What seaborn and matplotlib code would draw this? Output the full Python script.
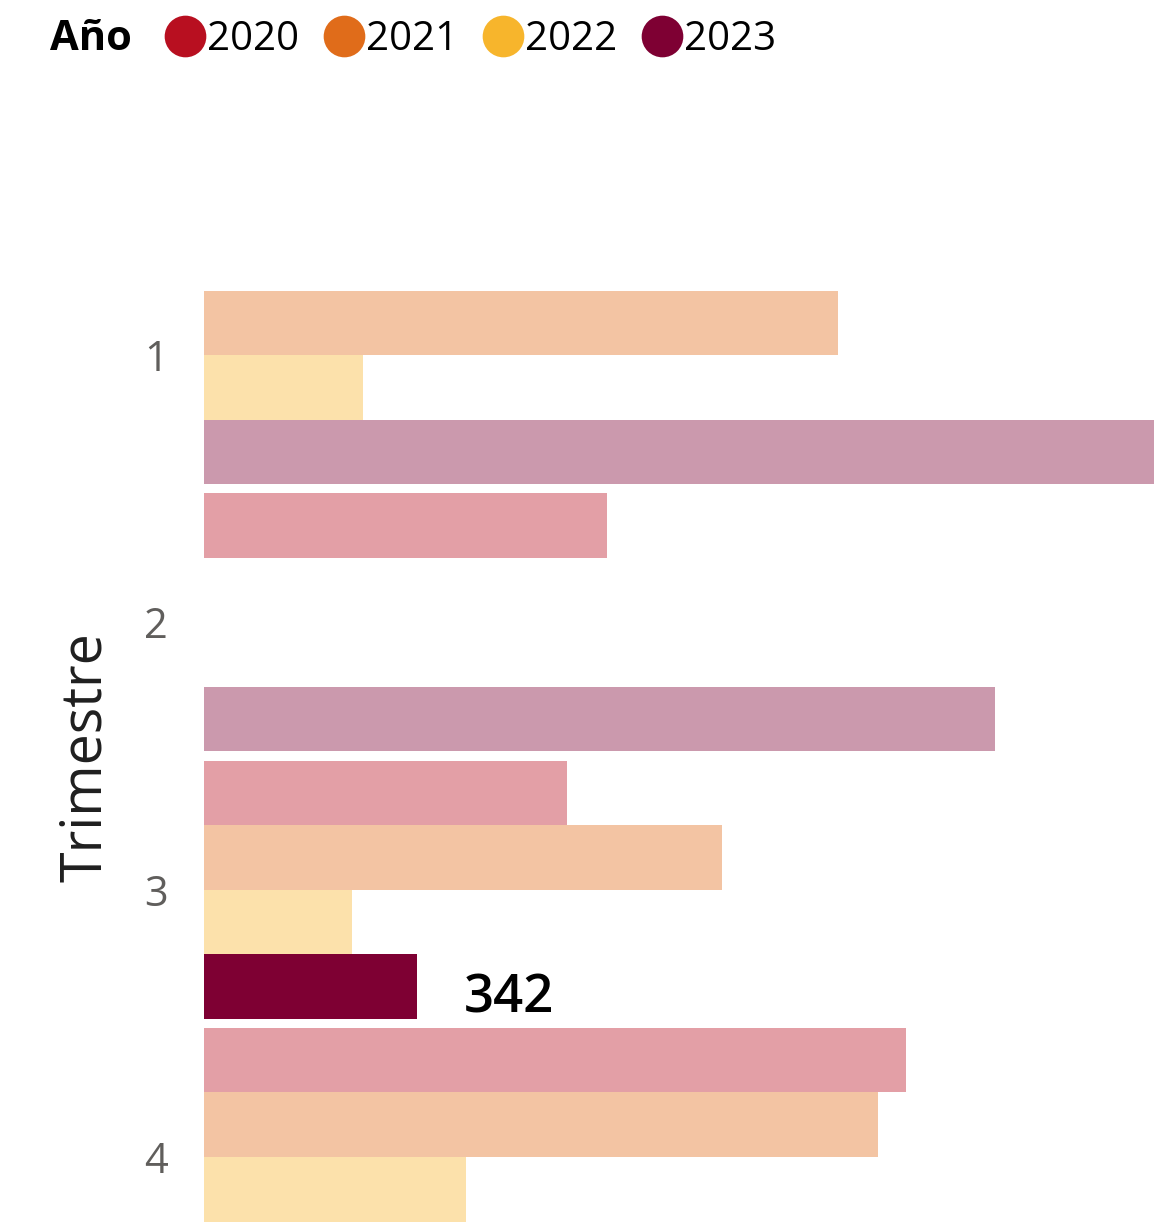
"""
Trimestre bars by year, one bar highlighted
"""

import numpy as np
import pandas as pd
import matplotlib
matplotlib.use("Agg")
import matplotlib.pyplot as plt
from matplotlib.lines import Line2D
from matplotlib.colors import to_rgb
import seaborn as sns

# data
trimestres = ["1", "2", "3", "4"]
years = ["2020", "2021", "2022", "2023"]
v2020 = [np.nan, 647, 583, 1126]
v2021 = [1018, np.nan, 832, 1081]
v2022 = [255, np.nan, 238, 421]
v2023 = [1525, 1270, 342, np.nan]
highlight = ("3", "2023")

colors = ["#B80F20", "#E06C1A", "#F7B52C", "#7E0033"]

rows = []
for year, vals in zip(years, [v2020, v2021, v2022, v2023]):
    for t, v in zip(trimestres, vals):
        if not np.isnan(v):
            rows.append({"Trimestre": t, "Año": year, "Valor": v})
df = pd.DataFrame(rows)

sns.set_style("white")
plt.rcParams["font.family"] = ["Open Sans", "DejaVu Sans"]

fig = plt.figure(figsize=(11.72, 12.25), dpi=100)
ax = fig.add_axes([0.174, 0.0, 0.811, 1 - 221.4 / 1225])

sns.barplot(data=df, y="Trimestre", x="Valor", hue="Año", order=trimestres,
            hue_order=years, palette=colors, orient="h", width=0.966,
            dodge=True, errorbar=None, legend=False, saturation=1, ax=ax)


def fade(c, a=0.4):
    r, g, b = to_rgb(c)
    return (a * r + 1 - a, a * g + 1 - a, a * b + 1 - a)


# fade everything except the selected bar
for year, color, cont in zip(years, colors, ax.containers):
    sub = df[df["Año"] == year].set_index("Trimestre")
    present = [t for t in trimestres if t in sub.index]
    for bar, t in zip(cont.patches, present):
        bar.set_edgecolor("none")
        if (t, year) == highlight:
            bar.set_facecolor(color)
            ax.annotate(f"{int(sub.loc[t, 'Valor'])}", (bar.get_width(), bar.get_y() + bar.get_height() / 2),
                        xytext=(34, -9), textcoords="offset points", va="center",
                        ha="left", fontsize=38, fontweight="semibold", color="black")
        else:
            bar.set_facecolor(fade(color))

ax.set_xlim(0, df["Valor"].max())
ax.set_ylim(3 + (1225 - 1157) / 267.3, -0.5)
sns.despine(ax=ax, left=True, bottom=True)
ax.set_xticks([])
ax.set_xlabel("")
ax.tick_params(axis="y", length=0, labelsize=30, labelcolor="#605E5C", pad=26)
ax.set_ylabel("Trimestre", fontsize=40, color="#1f1f1f")
ax.yaxis.set_label_coords(-0.094, 0.466)

# legend strip at top
fig.text(50 / 1172, 1 - 39 / 1225, "Año", fontsize=30, fontweight="bold",
         color="black", va="center", ha="left")
handles = [Line2D([], [], marker="o", linestyle="none", markersize=30,
                  markerfacecolor=c, markeredgecolor="none") for c in colors]
fig.legend(handles, years, loc="center left", bbox_to_anchor=(141 / 1172, 1 - 40 / 1225),
           ncol=4, frameon=False, fontsize=29, handletextpad=-0.05,
           columnspacing=0.51, handlelength=1.2, borderpad=0, labelcolor="black")

fig.savefig("out.png", dpi=100)
